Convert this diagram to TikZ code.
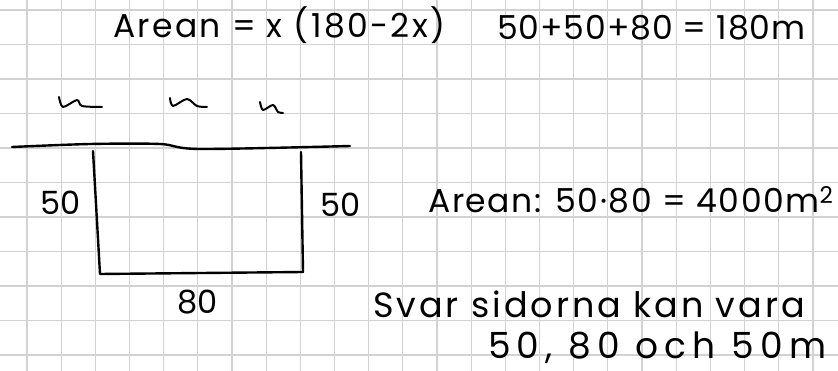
\documentclass[tikz,border=0pt]{standalone}
\usepackage{fontspec}
\setmainfont{Poppins}

\begin{document}
\begin{tikzpicture}[x=1pt, y=-1pt, line cap=round, line join=round,
  ink/.style={line width=2.4pt, black},
  gridline/.style={gray!35, line width=1.2pt},
  hand/.style={inner sep=0pt, anchor=base west, font=\fontsize{#1}{36}\selectfont},
  hand/.default=32]
\useasboundingbox (0,0) rectangle (838,371);
\fill[white] (0,0) rectangle (838,371);
% squared paper
\foreach \i in {0,...,23}
  \draw[gridline] (27+34.17*\i,0) -- (27+34.17*\i,371);
\foreach \j in {0,...,10}
  \draw[gridline] (0,10+34.5*\j) -- (838,10+34.5*\j);
% formulas
\node[hand=33] (arean) at (113,38) {\addfontfeature{LetterSpace=7}Arean = x (180-2x)};
\node[hand=33] (summa) at (497,40) {\addfontfeature{LetterSpace=2.8}50+50+80 = 180m};
% water marks and the bank
\draw[ink, line width=2pt] plot[smooth] coordinates {(59,97) (63,107) (77,100) (82,106) (102,107)};
\draw[ink, line width=2pt] plot[smooth] coordinates {(170,98) (173,106) (187,99) (197,106) (207,107)};
\draw[ink, line width=2pt] plot[smooth] coordinates {(260,102) (263,110) (273,105) (278,112) (283,113)};
\draw[ink] plot[smooth] coordinates {(12,147) (90,144) (160,144) (200,149) (350,146)};
% the fence
\coordinate (tl) at (93,151);
\coordinate (bl) at (100,274);
\coordinate (br) at (303,272);
\coordinate (tr) at (301,152);
\draw[ink] (tl) -- (bl) -- (br) -- (tr);
\node[hand] (vsida) at (40,215) {50};
\node[hand] (hsida) at (320,217) {50};
\node[hand] (botten) at (177,313) {80};
% answer
\node[hand=33] (area) at (428,213) {\addfontfeature{LetterSpace=4.8}Arean: 50·80 = 4000m\textsuperscript{2}};
\node[hand=35] (svar) at (373,318) {\addfontfeature{LetterSpace=8.5}Svar sidorna kan vara};
\node[hand=36] (matt) at (488,359) {\addfontfeature{LetterSpace=17}50, 80 och 50m};
\end{tikzpicture}
\end{document}
